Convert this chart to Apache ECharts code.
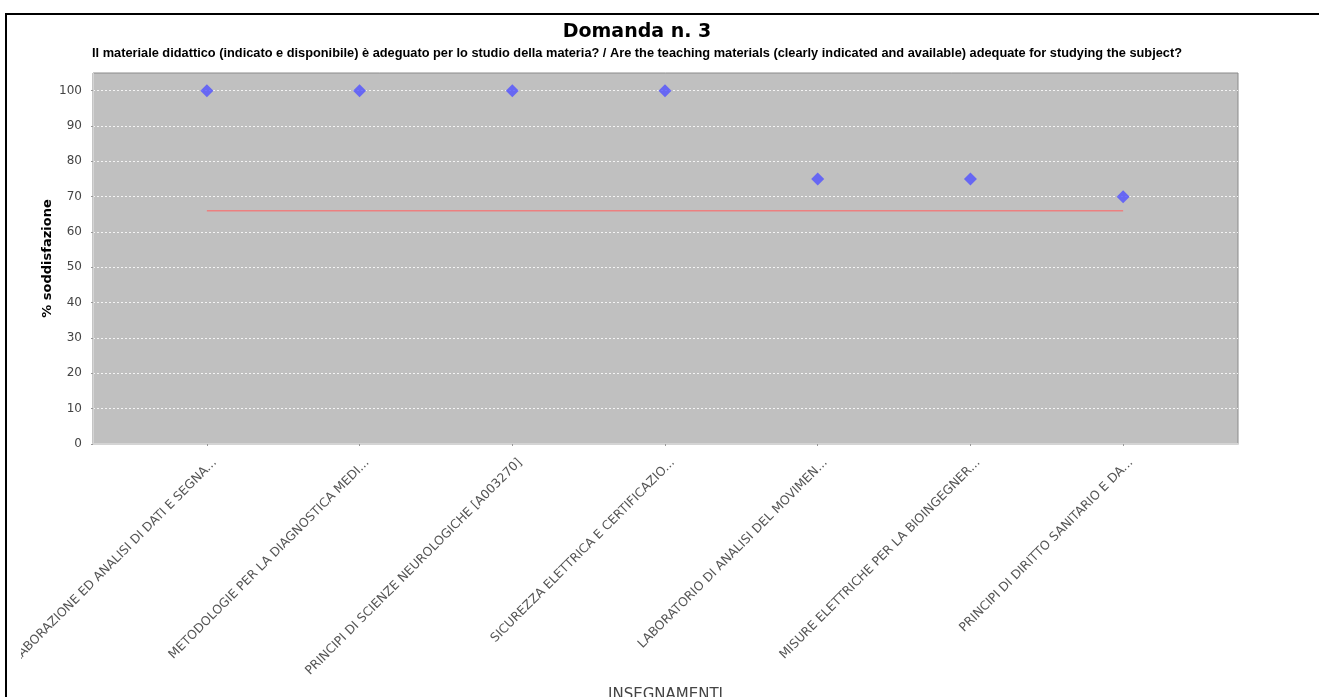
<!DOCTYPE html>
<html><head><meta charset="utf-8">
<script src="https://cdn.jsdelivr.net/npm/echarts@6/dist/echarts.min.js"></script>
<style>
html,body{margin:0;padding:0;background:#fff;}
#chart{position:absolute;left:0;top:0;width:1319px;height:697px;}
#mask{position:absolute;left:0;top:0;width:21px;height:697px;background:#fff;}
#bl{position:absolute;left:5px;top:13px;width:2px;height:684px;background:#000;}
#bt{position:absolute;left:5px;top:13px;width:1314px;height:2px;background:#000;}
</style></head>
<body><div id="chart"></div><div id="mask"></div><div id="bl"></div><div id="bt"></div>
<script>
const titleText = 'Domanda n. 3';
const subtitleText = 'Il materiale didattico (indicato e disponibile) è adeguato per lo studio della materia? / Are the teaching materials (clearly indicated and available) adequate for studying the subject?';
const yAxisName = '% soddisfazione';
const xAxisName = 'INSEGNAMENTI';
const categories = [
  'ELABORAZIONE ED ANALISI DI DATI E SEGNA...',
  'METODOLOGIE PER LA DIAGNOSTICA MEDI...',
  'PRINCIPI DI SCIENZE NEUROLOGICHE [A003270]',
  'SICUREZZA ELETTRICA E CERTIFICAZIO...',
  'LABORATORIO DI ANALISI DEL MOVIMEN...',
  'MISURE ELETTRICHE PER LA BIOINGEGNER...',
  'PRINCIPI DI DIRITTO SANITARIO E DA...'
];
const satisfaction = [100, 100, 100, 100, 75, 75, 70];
const reference = [66, 66, 66, 66, 66, 66, 66];
const yMin = 0, yMax = 105, yStep = 10;

// condensed subtitle: scale the bold sans text horizontally to the reference width
const subFont = 'bold 12.5px "Liberation Sans", Arial, sans-serif';
const mctx = document.createElement('canvas').getContext('2d');
mctx.font = subFont;
const subWidth = mctx.measureText(subtitleText).width || 1090;
const subScale = 1090 / subWidth;

const chart = echarts.init(document.getElementById('chart'), null, {renderer: 'canvas'});
chart.setOption({
  animation: false,
  backgroundColor: '#ffffff',
  title: [
    {text: titleText, left: 637, top: 23, textAlign: 'center', padding: 0,
     textStyle: {fontFamily: 'DejaVu Sans', fontWeight: 'bold', fontSize: 19, color: '#000'}}
  ],
  graphic: [
    {type: 'text', x: 637, y: 47, scaleX: subScale, originX: 0,
     style: {text: subtitleText, font: subFont, fill: '#000', align: 'center', verticalAlign: 'top'}}
  ],
  grid: [
    {left: 93, right: 81, top: 73, bottom: 253, show: true, backgroundColor: '#c0c0c0', borderColor: '#8a8a8a', borderWidth: 1, outerBoundsMode: 'none', containLabel: false},
    {left: 130.5, right: 119.5, top: 73, bottom: 253, outerBoundsMode: 'none', containLabel: false}
  ],
  xAxis: [
    {gridIndex: 0, type: 'value', min: 0, max: 1, offset: 4,
     axisLine: {show: true, lineStyle: {color: '#d4d4d4', width: 2}},
     axisTick: {show: false}, axisLabel: {show: false}, splitLine: {show: false},
     name: xAxisName, nameLocation: 'middle', nameGap: 240, nameMoveOverlap: false,
     nameTextStyle: {fontFamily: 'DejaVu Sans', fontSize: 15, color: '#444', verticalAlign: 'top'}},
    {gridIndex: 1, type: 'category', data: categories, boundaryGap: true, offset: 4,
     axisLine: {show: false},
     axisTick: {show: true, alignWithLabel: true, length: 2, lineStyle: {color: '#999'}},
     axisLabel: {interval: 0, rotate: 45, fontFamily: 'DejaVu Sans', fontSize: 12.4, color: '#555',
                 margin: 5, verticalAlign: 'top', lineHeight: 22},
     splitLine: {show: false}}
  ],
  yAxis: [
    {gridIndex: 0, type: 'value', min: yMin, max: yMax, interval: yStep, offset: 4,
     axisLine: {show: true, lineStyle: {color: '#d4d4d4', width: 1}},
     axisTick: {show: true, length: 2, lineStyle: {color: '#999'}},
     axisLabel: {fontFamily: 'DejaVu Sans', fontSize: 12, color: '#444', margin: 7, showMaxLabel: false},
     splitLine: {show: true, showMinLine: false, showMaxLine: false, lineStyle: {color: '#f4f4f4', type: [2, 2], width: 1}},
     name: yAxisName, nameLocation: 'middle', nameGap: 35, nameMoveOverlap: false,
     nameTextStyle: {fontFamily: 'DejaVu Sans', fontWeight: 'bold', fontSize: 13, color: '#000'}},
    {gridIndex: 1, type: 'value', min: yMin, max: yMax, interval: yStep, show: false}
  ],
  series: [
    {type: 'line', xAxisIndex: 1, yAxisIndex: 1, data: reference, symbol: 'none',
     lineStyle: {color: '#ec8080', width: 1.5}, z: 2, silent: true},
    {type: 'scatter', xAxisIndex: 1, yAxisIndex: 1, data: satisfaction, symbol: 'diamond',
     symbolSize: 13, itemStyle: {color: '#5050ff'}, z: 3}
  ]
});
</script>
</body></html>
